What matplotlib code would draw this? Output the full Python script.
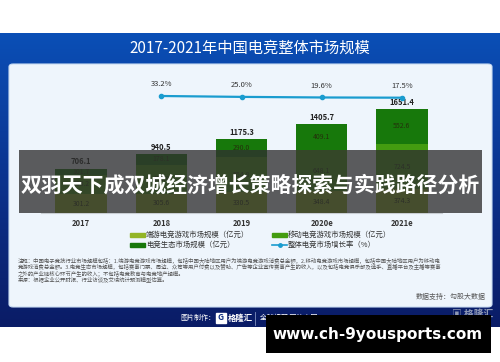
import matplotlib
matplotlib.use("Agg")
import matplotlib.pyplot as plt
import numpy as np
from matplotlib.patches import Rectangle, FancyBboxPatch
from matplotlib.lines import Line2D

plt.rcParams['font.family'] = ['Noto Sans CJK SC', 'DejaVu Sans']

# 数据
years = ['2017', '2018', '2019', '2020e', '2021e']
duanyou = [301.2, 305.6, 330.5, 348.4, 374.3]
yidong = [303.2, 456.8, 554.8, 648.1, 724.5]
shengtai = [101.7, 178.1, 290.0, 409.1, 552.6]
totals = [706.1, 940.5, 1175.3, 1405.7, 1651.4]
growth_years = ['2018', '2019', '2020e', '2021e']
growth = [33.2, 25.0, 19.6, 17.5]

series_names = ['端游电竞游戏市场规模（亿元）', '移动电竞游戏市场规模（亿元）',
                '电竞生态市场规模（亿元）', '整体电竞市场增长率（%）']
colors = ['#93b526', '#439c10', '#17780b']
line_color = '#1a9ccf'

W, H = 500, 362
fig = plt.figure(figsize=(W / 100, H / 100), dpi=100)
fig.patch.set_facecolor('white')


def fx(x):
    return x / W


def fy(y):
    return 1 - y / H


# 蓝色背景（渐变）
bg = fig.add_axes([0, fy(327), 1, (327 - 33) / H], zorder=0)
grad = np.linspace(0, 1, 256).reshape(-1, 1)
from matplotlib.colors import LinearSegmentedColormap
cmap = LinearSegmentedColormap.from_list('b', ['#0b4fb6', '#0a3c9c', '#0a2a80', '#0a1c66'])
bg.imshow(grad, aspect='auto', cmap=cmap, extent=[0, 1, 0, 1])
bg.set_axis_off()

# 浅色面板
fig.patches.append(FancyBboxPatch((fx(9), fy(307)), fx(483), (307 - 64) / H,
                                  boxstyle='round,pad=0,rounding_size=0.008',
                                  transform=fig.transFigure, facecolor='#eef5fc',
                                  edgecolor='#c9dcf2', lw=0.8, zorder=1))

fig.text(0.5, fy(48), '2017-2021年中国电竞整体市场规模', color='white', fontsize=11,
         ha='center', va='center', fontweight='medium', zorder=2)

# 柱状图
ax = fig.add_axes([fx(41), fy(213), fx(401), 120 / H], zorder=3)
ax.patch.set_alpha(0)
x = np.arange(len(years))
bw = 0.64
b1 = ax.bar(x, duanyou, bw, color=colors[0])
b2 = ax.bar(x, yidong, bw, bottom=duanyou, color=colors[1])
bottom3 = [a + b for a, b in zip(duanyou, yidong)]
b3 = ax.bar(x, shengtai, bw, bottom=bottom3, color=colors[2])
for bars, vals in [(b1, duanyou), (b2, yidong), (b3, shengtai)]:
    for r, v in zip(bars, vals):
        ax.text(r.get_x() + r.get_width() / 2, r.get_y() + r.get_height() / 2, f'{v:.1f}',
                ha='center', va='center', fontsize=5, color='#24300c')
for i, t in enumerate(totals):
    ax.annotate(f'{t:.1f}', (x[i], t), xytext=(0, 1.5), textcoords='offset points',
                ha='center', va='bottom', fontsize=5.5, color='#222222', fontweight='bold')
ax.set_xlim(-0.5, 4.5)
ax.set_ylim(0, 120 / 0.063)
for s in ['top', 'right', 'left']:
    ax.spines[s].set_visible(False)
ax.spines['bottom'].set_color('#c8cdd2')
ax.spines['bottom'].set_linewidth(0.8)
ax.set_yticks([])
ax.set_xticks(x)
ax.set_xticklabels(years, fontsize=5.5, color='#333333', fontweight='bold')
ax.tick_params(axis='x', length=0, pad=4)

# 增长率折线
lx = fig.add_axes([fx(41), fy(110), fx(401), 30 / H], zorder=4)
lx.patch.set_alpha(0)
gx = [years.index(g) for g in growth_years]
lx.plot(gx, growth, color=line_color, lw=1.6, marker='o', ms=3)
for xi, g in zip(gx, growth):
    lx.annotate(f'{g:.1f}%', (xi, g), xytext=(0, 5.5), textcoords='offset points',
                ha='center', va='bottom', fontsize=5.5, color='#333333')
lx.set_xlim(-0.5, 4.5)
lx.set_ylim(-96.4, 181.3)
lx.set_axis_off()

# 图例
leg_items = [(130, 235, 0), (272, 235, 1), (130, 245, 2), (272, 245, 3)]
for lx0, ly0, k in leg_items:
    if k < 3:
        fig.patches.append(Rectangle((fx(lx0), fy(ly0 + 2)), fx(15), 4 / H,
                                     transform=fig.transFigure, color=colors[k], zorder=5))
    else:
        fig.lines.append(Line2D([fx(lx0), fx(lx0 + 15)], [fy(ly0), fy(ly0)],
                                transform=fig.transFigure, color=line_color, lw=1.2,
                                marker='o', markevery=[0], ms=0, zorder=5))
        fig.lines.append(Line2D([fx(lx0 + 7.5)], [fy(ly0)], transform=fig.transFigure,
                                color=line_color, marker='o', ms=2.5, zorder=5))
    fig.text(fx(lx0 + 16), fy(ly0), series_names[k], fontsize=5.3, color='#333333',
             ha='left', va='center', zorder=5)

# 注释
notes = [
    '注释：中国电子竞技行业市场规模包括：1.端游电竞游戏市场规模，包括中国大陆地区用户为端游电竞游戏消费总金额，2.移动电竞游戏市场规模，包括中国大陆地区用户为移动电',
    '竞游戏消费总金额。3.电竞生态市场规模，包括赛事门票、周边、众筹等用户付费以及赞助、广告等企业宣传赛事产生的收入，以及包括电竞俱乐部及选手、直播平台及主播等赛事',
    '之外的产业链核心环节产生的收入；不包括电竞教育与电竞地产规模。',
    '来源：根据企业公开财报、行业访谈及艾瑞统计预测模型估算。',
]
for i, n in enumerate(notes):
    fig.text(fx(18), fy(260 + i * 6.8), n, fontsize=3.9, color='#555555',
             ha='left', va='center', zorder=5)
fig.text(fx(486), fy(297), '数据支持：勾股大数据', fontsize=5, color='#555555',
         ha='right', va='center', zorder=5)

# 底部
fig.text(fx(180), fy(318), '图片制作：', fontsize=5, color='white', ha='left', va='center', zorder=5)
fig.patches.append(Rectangle((fx(216), fy(323)), fx(10), 10 / H, transform=fig.transFigure,
                             color='white', zorder=5))
fig.text(fx(221), fy(318), 'G', fontsize=6, color='#0a2a80', ha='center', va='center',
         fontweight='bold', zorder=6)
fig.text(fx(228), fy(318), '格隆汇', fontsize=6, color='white', ha='left', va='center',
         fontweight='bold', zorder=5)
fig.lines.append(Line2D([fx(255), fx(255)], [fy(312), fy(325)], transform=fig.transFigure,
                        color='#8090c0', lw=0.6, zorder=5))
fig.text(fx(260), fy(318), '全球视野 下注中国', fontsize=5, color='white', ha='left',
         va='center', zorder=5)
fig.text(fx(493), fy(314), '▣ 格隆汇', fontsize=7, color='#b0b8c8', ha='right', va='center',
         fontweight='bold', alpha=0.8, zorder=5)

# 标题覆盖条
fig.patches.append(Rectangle((fx(19), fy(213)), fx(463), 63 / H, transform=fig.transFigure,
                             facecolor='#303030', alpha=0.78, zorder=10))
fig.text(fx(250), fy(185), '双羽天下成双城经济增长策略探索与实践路径分析', fontsize=15,
         color='white', fontweight='bold', ha='center', va='center', zorder=11)

# 水印
fig.patches.append(Rectangle((fx(266), fy(353)), fx(225), 38 / H, transform=fig.transFigure,
                             facecolor='black', zorder=12))
fig.text(fx(378), fy(334), 'www.ch-9yousports.com', fontsize=11, color='white',
         fontweight='bold', family='DejaVu Sans', ha='center', va='center', zorder=13)

fig.savefig('out.png', dpi=100)
